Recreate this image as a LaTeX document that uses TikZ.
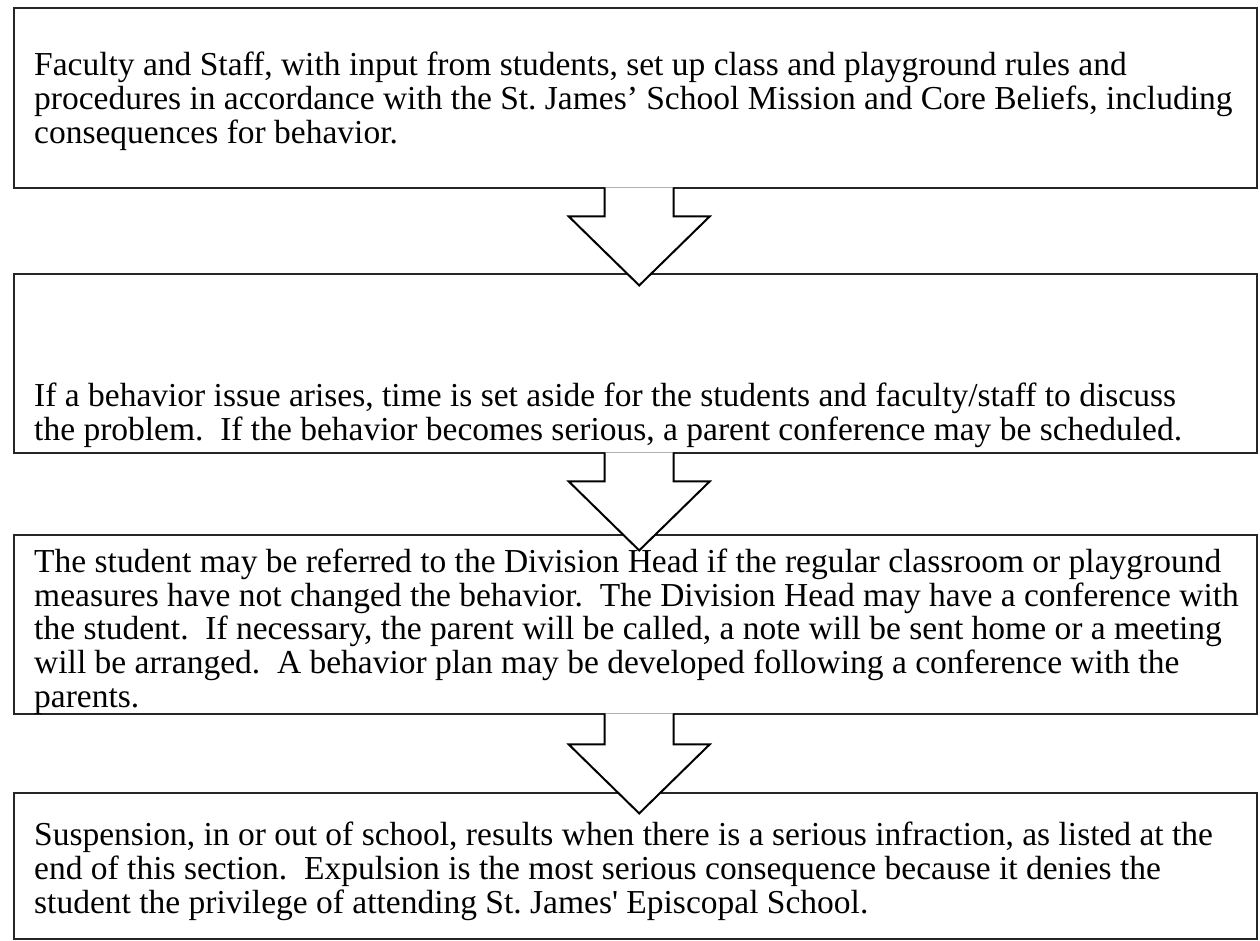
\documentclass[tikz,border=0pt]{standalone}
\usepackage{fontspec}
\setmainfont{Liberation Serif}
\frenchspacing
\begin{document}
\begin{tikzpicture}[x=1pt, y=-1pt]
      % Estilos
      \tikzstyle{caja}=[
        rectangle,
        draw=black!85,
        line width=2.4pt,
        fill=white,
        inner sep=0pt,
        minimum width=1243pt,
        anchor=north west
      ]
      % el ancla base queda en la linea de base de la ultima linea
      \tikzstyle{texto}=[
        align=left,
        inner sep=0pt,
        anchor=base west,
        font=\fontsize{33.5}{33.6}\selectfont
      ]
      % flecha de bloque: se rellena cerrada pero el trazo queda abierto arriba
      \tikzstyle{flecha}=[draw=black, line width=2pt, fill=white, line join=miter]

      \fill[white] (0,0) rectangle (1260,940);
      \useasboundingbox (0,0) rectangle (1260,940);

      % cajas
      \node[caja, minimum height=180pt] (caja1) at (13,7) {};
      \node[caja, minimum height=179pt] (caja2) at (13,273) {};
      \node[caja, minimum height=179pt] (caja3) at (13,534) {};
      \node[caja, minimum height=146pt] (caja4) at (13,792) {};

      % textos
      \node[texto] (texto1) at (34,143) {Faculty and Staff, with input from students, set up class and playground rules and\\procedures in accordance with the St.~James’ School Mission and Core Beliefs, including\\consequences for behavior.};
      \node[texto] (texto2) at (34,440) {If a behavior issue arises, time is set aside for the students and faculty/staff to discuss\\the problem.~ If the behavior becomes serious, a parent conference may be scheduled.};
      \node[texto] (texto3) at (34,707) {The student may be referred to the Division Head if the regular classroom or playground\\measures have not changed the behavior.~ The Division Head may have a conference with\\the student.~ If necessary, the parent will be called, a note will be sent home or a meeting\\will be arranged.~ A behavior plan may be developed following a conference with the\\parents.};
      \node[texto] (texto4) at (34,913) {Suspension, in or out of school, results when there is a serious infraction, as listed at the\\end of this section.~ Expulsion is the most serious consequence because it denies the\\student the privilege of attending St.~James\textquotesingle{} Episcopal School.};

      % caja1 -> caja2
      \draw[flecha] ([xshift=3.5pt, yshift=2pt]caja1.south) ++(-34.5,0) -- ++(0,29) -- ++(-36,0) -- ++(70.5,69) -- ++(70.5,-69) -- ++(-36,0) -- ++(0,-29);
      % caja2 -> caja3
      \draw[flecha] ([xshift=3.5pt, yshift=2pt]caja2.south) ++(-34.5,0) -- ++(0,29) -- ++(-36,0) -- ++(70.5,69) -- ++(70.5,-69) -- ++(-36,0) -- ++(0,-29);
      % caja3 -> caja4
      \draw[flecha] ([xshift=3.5pt, yshift=2pt]caja3.south) ++(-34.5,0) -- ++(0,31) -- ++(-36,0) -- ++(70.5,69) -- ++(70.5,-69) -- ++(-36,0) -- ++(0,-31);
\end{tikzpicture}
\end{document}
